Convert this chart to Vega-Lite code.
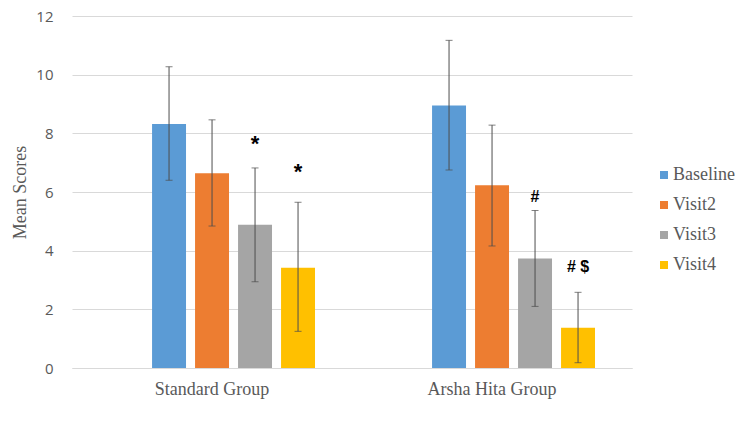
{
  "$schema": "https://vega.github.io/schema/vega-lite/v6.json",
  "width": 560,
  "height": 352,
  "autosize": {"type": "none"},
  "padding": {"left": 72, "top": 16, "right": 118, "bottom": 64},
  "background": "white",
  "config": {"view": {"stroke": null}},
  "data": {
    "values": [
      {"group": "Standard Group", "visit": "Baseline", "mean": 8.32, "lo": 6.40, "hi": 10.27, "note": "", "note_y": null},
      {"group": "Standard Group", "visit": "Visit2", "mean": 6.64, "lo": 4.84, "hi": 8.46, "note": "", "note_y": null},
      {"group": "Standard Group", "visit": "Visit3", "mean": 4.88, "lo": 2.94, "hi": 6.82, "note": "*", "note_y": 7.40},
      {"group": "Standard Group", "visit": "Visit4", "mean": 3.42, "lo": 1.25, "hi": 5.65, "note": "*", "note_y": 6.44},
      {"group": "Arsha Hita Group", "visit": "Baseline", "mean": 8.95, "lo": 6.75, "hi": 11.17, "note": "", "note_y": null},
      {"group": "Arsha Hita Group", "visit": "Visit2", "mean": 6.23, "lo": 4.16, "hi": 8.28, "note": "", "note_y": null},
      {"group": "Arsha Hita Group", "visit": "Visit3", "mean": 3.73, "lo": 2.10, "hi": 5.37, "note": "#", "note_y": 5.66},
      {"group": "Arsha Hita Group", "visit": "Visit4", "mean": 1.37, "lo": 0.18, "hi": 2.58, "note": "# $", "note_y": 3.27}
    ]
  },
  "encoding": {
    "x": {
      "field": "group",
      "type": "nominal",
      "sort": ["Standard Group", "Arsha Hita Group"],
      "scale": {"paddingInner": 0.418, "paddingOuter": 0.209, "align": 0.684},
      "axis": {
        "title": null,
        "labelAngle": 0,
        "labelFont": "Liberation Serif",
        "labelFontSize": 18,
        "labelColor": "#595959",
        "labelPadding": 12,
        "labelOffset": -21.5,
        "ticks": false,
        "domainColor": "#D9D9D9",
        "domainWidth": 1
      }
    },
    "xOffset": {
      "field": "visit",
      "type": "nominal",
      "sort": ["Baseline", "Visit2", "Visit3", "Visit4"],
      "scale": {"paddingInner": 0.21, "paddingOuter": 0}
    }
  },
  "layer": [
    {
      "mark": {"type": "bar"},
      "encoding": {
        "y": {
          "field": "mean",
          "type": "quantitative",
          "scale": {"domain": [0, 12], "nice": false},
          "axis": {
            "title": "Mean Scores",
            "titleFont": "Liberation Serif",
            "titleFontSize": 18,
            "titleFontWeight": "normal",
            "titleColor": "#595959",
            "titlePadding": 6,
            "values": [0, 2, 4, 6, 8, 10, 12],
            "labelFont": "Open Sans",
            "labelFontSize": 15,
            "labelColor": "#595959",
            "labelPadding": 19,
            "ticks": false,
            "domain": false,
            "gridColor": "#D9D9D9",
            "gridWidth": 1
          }
        },
        "color": {
          "field": "visit",
          "type": "nominal",
          "sort": ["Baseline", "Visit2", "Visit3", "Visit4"],
          "scale": {
            "domain": ["Baseline", "Visit2", "Visit3", "Visit4"],
            "range": ["#5B9BD5", "#ED7D31", "#A5A5A5", "#FFC000"]
          },
          "legend": {
            "title": null,
            "orient": "none",
            "legendX": 583,
            "legendY": 150,
            "padding": 0,
            "symbolType": "square",
            "symbolSize": 64,
            "symbolStrokeWidth": 0,
            "labelFont": "Liberation Serif",
            "labelFontSize": 18,
            "labelColor": "#595959",
            "labelOffset": 0,
            "rowPadding": 12
          }
        }
      }
    },
    {
      "mark": {"type": "rule", "color": "#4D4D4D", "strokeWidth": 1},
      "encoding": {
        "y": {"field": "lo", "type": "quantitative"},
        "y2": {"field": "hi"}
      }
    },
    {
      "mark": {"type": "tick", "color": "#4D4D4D", "thickness": 1, "size": 7, "orient": "horizontal"},
      "encoding": {"y": {"field": "lo", "type": "quantitative"}}
    },
    {
      "mark": {"type": "tick", "color": "#4D4D4D", "thickness": 1, "size": 7, "orient": "horizontal"},
      "encoding": {"y": {"field": "hi", "type": "quantitative"}}
    },
    {
      "transform": [{"filter": "datum.note == '*'"}],
      "mark": {"type": "text", "font": "Liberation Sans", "fontWeight": "bold", "fontSize": 22, "baseline": "alphabetic", "align": "center", "color": "#000000"},
      "encoding": {
        "y": {"field": "note_y", "type": "quantitative"},
        "text": {"field": "note"}
      }
    },
    {
      "transform": [{"filter": "datum.note != '' && datum.note != '*'"}],
      "mark": {"type": "text", "font": "Liberation Sans", "fontWeight": "bold", "fontSize": 16, "baseline": "alphabetic", "align": "center", "color": "#000000"},
      "encoding": {
        "y": {"field": "note_y", "type": "quantitative"},
        "text": {"field": "note"}
      }
    }
  ]
}
